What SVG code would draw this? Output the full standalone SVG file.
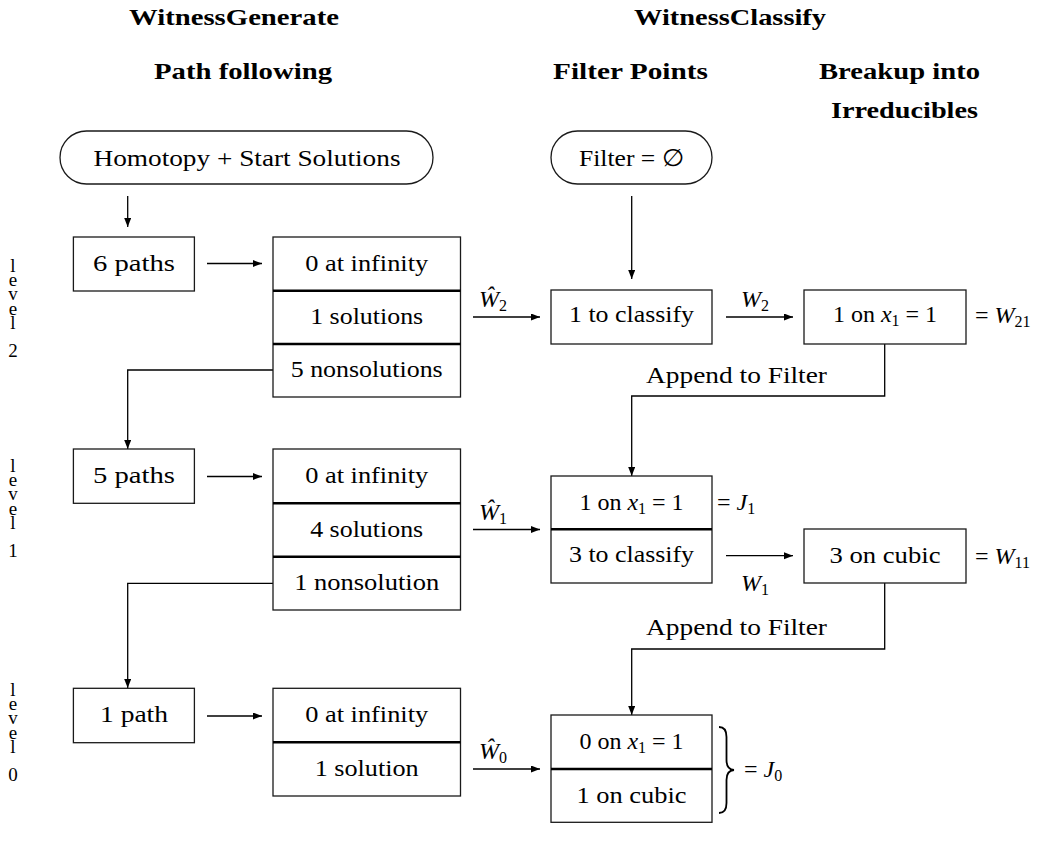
<svg xmlns="http://www.w3.org/2000/svg" width="1056" height="842" viewBox="0 0 1056 842" font-family="'Liberation Serif', 'Times New Roman', serif">
<style>
text{font-family:"Liberation Serif","Times New Roman",serif}
.t{font-size:24px;fill:#000}
.h{font-weight:bold;font-size:23px}
.m{text-anchor:middle}
.i{font-style:italic}
.lv{font-size:19px;fill:#000;text-anchor:middle}
.box{fill:#fff;stroke:#1a1a1a;stroke-width:1.3}
.dv{stroke:#000;stroke-width:2.4}
.c{fill:none;stroke:#000;stroke-width:1.3}
.a{marker-end:url(#ah)}
</style>
<defs>
<marker id="ah" markerWidth="10" markerHeight="8" refX="9" refY="3.5" orient="auto" markerUnits="userSpaceOnUse"><path d="M0,0 L9,3.5 L0,7 z" fill="#000"/></marker>
</defs>

<g id="headers">
<text class="t h m" x="234" y="25" textLength="210" lengthAdjust="spacingAndGlyphs">WitnessGenerate</text>
<text class="t h m" x="243" y="79" textLength="178" lengthAdjust="spacingAndGlyphs">Path following</text>
<text class="t h m" x="730" y="25" textLength="192" lengthAdjust="spacingAndGlyphs">WitnessClassify</text>
<text class="t h m" x="630.5" y="79" textLength="155" lengthAdjust="spacingAndGlyphs">Filter Points</text>
<text class="t h m" x="899.5" y="79" textLength="161" lengthAdjust="spacingAndGlyphs">Breakup into</text>
<text class="t h m" x="904.5" y="118" textLength="147" lengthAdjust="spacingAndGlyphs">Irreducibles</text>
</g>

<g id="levels">
<text class="lv" x="13" y="272"><tspan x="13" y="272">l</tspan><tspan x="13" y="286">e</tspan><tspan x="13" y="300">v</tspan><tspan x="13" y="315">e</tspan><tspan x="13" y="329">l</tspan><tspan x="13" y="357">2</tspan></text>
<text class="lv" x="13" y="472"><tspan x="13" y="472">l</tspan><tspan x="13" y="486">e</tspan><tspan x="13" y="500">v</tspan><tspan x="13" y="515">e</tspan><tspan x="13" y="529">l</tspan><tspan x="13" y="557">1</tspan></text>
<text class="lv" x="13" y="696"><tspan x="13" y="696">l</tspan><tspan x="13" y="710">e</tspan><tspan x="13" y="724">v</tspan><tspan x="13" y="739">e</tspan><tspan x="13" y="753">l</tspan><tspan x="13" y="781">0</tspan></text>
</g>

<g id="connectors">
<path class="c a" d="M127.7,196 V227"/>
<path class="c a" d="M207,263.5 H262"/>
<path class="c a" d="M273,370 H127.7 V449"/>
<path class="c a" d="M207,476.5 H262"/>
<path class="c a" d="M273,583.3 H127.7 V688"/>
<path class="c a" d="M207,716 H262"/>
<path class="c a" d="M473,317 H540"/>
<path class="c a" d="M473,529.5 H540"/>
<path class="c a" d="M473,769 H540"/>
<path class="c a" d="M631.7,196 V279"/>
<path class="c a" d="M726,317 H793"/>
<path class="c a" d="M726,555.7 H793"/>
<path class="c a" d="M884.7,344 V396 H631.7 V476"/>
<path class="c a" d="M884.7,583 V649 H631.7 V715"/>
<path d="M719,727 Q726.5,727 726.5,737 V760 Q726.5,769.5 734,770 Q726.5,770.5 726.5,780 V803 Q726.5,813 719,813" fill="none" stroke="#000" stroke-width="1.8"/>
</g>

<g id="labels">
<text class="t m" x="493" y="307"><tspan class="i">Ŵ</tspan><tspan font-size="16" dy="4">2</tspan></text>
<text class="t m" x="493" y="519.5"><tspan class="i">Ŵ</tspan><tspan font-size="16" dy="4">1</tspan></text>
<text class="t m" x="493" y="759"><tspan class="i">Ŵ</tspan><tspan font-size="16" dy="4">0</tspan></text>
<text class="t m" x="755" y="307"><tspan class="i">W</tspan><tspan font-size="16" dy="4">2</tspan></text>
<text class="t m" x="755" y="591"><tspan class="i">W</tspan><tspan font-size="16" dy="4">1</tspan></text>
<text class="t m" x="736.5" y="383" textLength="181" lengthAdjust="spacingAndGlyphs">Append to Filter</text>
<text class="t m" x="736.5" y="635" textLength="181" lengthAdjust="spacingAndGlyphs">Append to Filter</text>
<text class="t" x="975" y="323">= <tspan class="i">W</tspan><tspan font-size="16" dy="4">21</tspan></text>
<text class="t" x="975" y="564">= <tspan class="i">W</tspan><tspan font-size="16" dy="4">11</tspan></text>
<text class="t" x="717" y="510">= <tspan class="i">J</tspan><tspan font-size="16" dy="4">1</tspan></text>
<text class="t" x="744" y="777">= <tspan class="i">J</tspan><tspan font-size="16" dy="4">0</tspan></text>
</g>

<g id="homotopy">
<rect class="box" x="60" y="131" width="373" height="53" rx="26.5"/>
<text class="t m" x="247" y="166" textLength="307" lengthAdjust="spacingAndGlyphs">Homotopy + Start Solutions</text>
</g>
<g id="filter">
<rect class="box" x="551" y="131" width="161" height="53" rx="26.5"/>
<text class="t m" x="631.5" y="166" textLength="105" lengthAdjust="spacingAndGlyphs">Filter = ∅</text>
</g>

<g id="paths6">
<rect class="box" x="73.4" y="237" width="121" height="54"/>
<text class="t m" x="134" y="271" textLength="82" lengthAdjust="spacingAndGlyphs">6 paths</text>
</g>
<g id="result2">
<rect class="box" x="273" y="237" width="187.5" height="160"/>
<line class="dv" x1="273" y1="290.7" x2="460.5" y2="290.7"/>
<line class="dv" x1="273" y1="344" x2="460.5" y2="344"/>
<text class="t m" x="366.7" y="271" textLength="123" lengthAdjust="spacingAndGlyphs">0 at infinity</text>
<text class="t m" x="366.7" y="324" textLength="113" lengthAdjust="spacingAndGlyphs">1 solutions</text>
<text class="t m" x="366.7" y="377" textLength="152" lengthAdjust="spacingAndGlyphs">5 nonsolutions</text>
</g>
<g id="classify2">
<rect class="box" x="551" y="290" width="161" height="54"/>
<text class="t m" x="631.5" y="322" textLength="125" lengthAdjust="spacingAndGlyphs">1 to classify</text>
</g>
<g id="w21">
<rect class="box" x="804" y="290" width="162" height="54"/>
<text class="t m" x="885" y="322">1 on <tspan class="i">x</tspan><tspan font-size="16" dy="4">1</tspan><tspan dy="-4"> = 1</tspan></text>
</g>

<g id="paths5">
<rect class="box" x="73.4" y="449" width="121" height="54.3"/>
<text class="t m" x="134" y="483" textLength="82" lengthAdjust="spacingAndGlyphs">5 paths</text>
</g>
<g id="result1">
<rect class="box" x="273" y="449" width="187.5" height="161"/>
<line class="dv" x1="273" y1="503.3" x2="460.5" y2="503.3"/>
<line class="dv" x1="273" y1="556.7" x2="460.5" y2="556.7"/>
<text class="t m" x="366.7" y="483" textLength="123" lengthAdjust="spacingAndGlyphs">0 at infinity</text>
<text class="t m" x="366.7" y="537" textLength="113" lengthAdjust="spacingAndGlyphs">4 solutions</text>
<text class="t m" x="366.7" y="590" textLength="145" lengthAdjust="spacingAndGlyphs">1 nonsolution</text>
</g>
<g id="classify1">
<rect class="box" x="551" y="476" width="161" height="107"/>
<line class="dv" x1="551" y1="529.3" x2="712" y2="529.3"/>
<text class="t m" x="631.5" y="510">1 on <tspan class="i">x</tspan><tspan font-size="16" dy="4">1</tspan><tspan dy="-4"> = 1</tspan></text>
<text class="t m" x="631.5" y="562" textLength="125" lengthAdjust="spacingAndGlyphs">3 to classify</text>
</g>
<g id="w11">
<rect class="box" x="804" y="529" width="162" height="54"/>
<text class="t m" x="885" y="563" textLength="111" lengthAdjust="spacingAndGlyphs">3 on cubic</text>
</g>

<g id="path1">
<rect class="box" x="73.4" y="688.3" width="121" height="54.4"/>
<text class="t m" x="134" y="722" textLength="68" lengthAdjust="spacingAndGlyphs">1 path</text>
</g>
<g id="result0">
<rect class="box" x="273" y="688.3" width="187.5" height="107.7"/>
<line class="dv" x1="273" y1="742.3" x2="460.5" y2="742.3"/>
<text class="t m" x="366.7" y="722" textLength="123" lengthAdjust="spacingAndGlyphs">0 at infinity</text>
<text class="t m" x="366.7" y="776" textLength="104" lengthAdjust="spacingAndGlyphs">1 solution</text>
</g>
<g id="classify0">
<rect class="box" x="551" y="715" width="161" height="107.3"/>
<line class="dv" x1="551" y1="769" x2="712" y2="769"/>
<text class="t m" x="631.5" y="749">0 on <tspan class="i">x</tspan><tspan font-size="16" dy="4">1</tspan><tspan dy="-4"> = 1</tspan></text>
<text class="t m" x="631.5" y="803" textLength="110" lengthAdjust="spacingAndGlyphs">1 on cubic</text>
</g>
</svg>
